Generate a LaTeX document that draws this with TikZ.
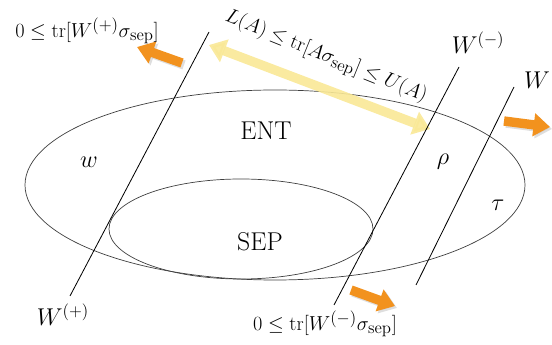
\documentclass[tikz,border=0pt]{standalone}
\usepackage{amsmath}
\usepackage{amssymb}
\usepackage{tikz}
\usepackage{xcolor}
\usetikzlibrary{arrows.meta, positioning, calc}
\definecolor{cOrange}{RGB}{242,146,30}
\definecolor{cYellow}{RGB}{249,232,150}
\definecolor{cShade}{RGB}{200,200,200}
\tikzset{
	setline/.style  ={draw=black!75, line width=0.6pt},
	witline/.style  ={draw=black, line width=0.7pt},
	fatarrow/.style ={-{Triangle[length=14pt, width=19pt]}, line width=8pt, draw=cOrange},
	fatshade/.style ={-{Triangle[length=14pt, width=19pt]}, line width=8pt, draw=cShade, opacity=0.6},
	boundarrow/.style={{Triangle[length=14pt, width=20pt]}-{Triangle[length=14pt, width=20pt]}, line width=8pt, draw=cYellow, opacity=0.9},
	bigmath/.style  ={font=\fontsize{22}{24}\selectfont},
	eqlabel/.style  ={font=\fontsize{19}{21}\selectfont},
	boundlabel/.style={font=\fontsize{19}{21}\selectfont},
}

\begin{document}
\begin{tikzpicture}[x=0.03cm, y=-0.03cm]
	\useasboundingbox (0,0) rectangle (552,345);
	% state sets
	\draw[setline] (275,185) ellipse [x radius=250, y radius=95];
	\draw[setline] (241,229) ellipse [x radius=132, y radius=50];
	\node[bigmath] (ent) at (266,131) {ENT};
	\node[bigmath] (sep) at (260,242) {SEP};
	% bound arrow
	\coordinate (bL) at (209,45);
	\coordinate (bU) at (430,129);
	\draw[boundarrow] (bL) -- (bU);
	\node[boundlabel, rotate=-22] (bound) at (326,57) {$L(A)\leq\mathrm{tr}[A\sigma_{\mathrm{sep}}]\leq U(A)$};
	% witness lines
	\coordinate (wpT) at (209,32);  \coordinate (wpB) at (70,296);
	\coordinate (wmT) at (459,67);  \coordinate (wmB) at (334,305);
	\coordinate (wT)  at (514,87);  \coordinate (wB)  at (416,285);
	\draw[witline] (wpT) -- (wpB);
	\draw[witline] (wmT) -- (wmB);
	\draw[witline] (wT) -- (wB);
	\node[bigmath] (lwp) at (63,315) {$W^{(+)}$};
	\node[bigmath] (lwm) at (478,43) {$W^{(-)}$};
	\node[bigmath] (lw)  at (537,80) {$W$};
	% states
	\node[bigmath] (sw)   at (89,162)  {$w$};
	\node[bigmath] (srho) at (443,162) {$\rho$};
	\node[bigmath] (stau) at (498,205) {$\tau$};
	% orange arrows
	\coordinate (a1s) at (182,63);  \coordinate (a1e) at (137,47);
	\coordinate (a2s) at (504,121); \coordinate (a2e) at (550,127);
	\coordinate (a3s) at (351,290); \coordinate (a3e) at (395,306);
	\foreach \s/\e in {a1s/a1e, a2s/a2e, a3s/a3e} {
		\draw[fatshade] ($(\s)+(2,2)$) -- ($(\e)+(2,2)$);
		\draw[fatarrow] (\s) -- (\e);
	}
	\node[eqlabel] (cp) at (87,31)  {$0\leq\mathrm{tr}[W^{(+)}\sigma_{\mathrm{sep}}]$};
	\node[eqlabel] (cm) at (325,324) {$0\leq\mathrm{tr}[W^{(-)}\sigma_{\mathrm{sep}}]$};
\end{tikzpicture}
\end{document}
